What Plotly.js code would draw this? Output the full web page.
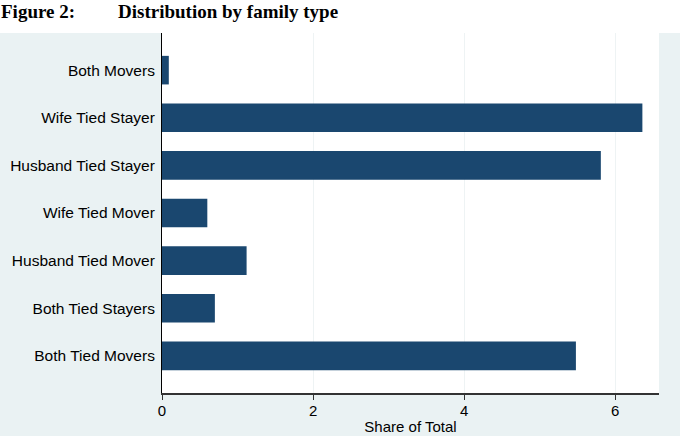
<!DOCTYPE html>
<html>
<head>
<meta charset="utf-8">
<script src="https://cdn.plot.ly/plotly-3.0.1.min.js"></script>
<style>html,body{margin:0;padding:0;background:#fff;}#chart{width:680px;height:436px;}</style>
</head>
<body>
<div id="chart"></div>
<script>
const categories = ["Both Movers", "Wife Tied Stayer", "Husband Tied Stayer", "Wife Tied Mover", "Husband Tied Mover", "Both Tied Stayers", "Both Tied Movers"];
const shareValues = [0.09, 6.36, 5.81, 0.60, 1.12, 0.70, 5.48];
const xTickValues = [0, 2, 4, 6];
const xTickLabels = ["0", "2", "4", "6"];

const trace = {
  type: "bar",
  orientation: "h",
  y: categories,
  x: shareValues,
  width: 0.6,
  marker: {color: "#1a476f", line: {width: 0}},
  hoverinfo: "skip"
};

const layout = {
  width: 680,
  height: 436,
  paper_bgcolor: "#eaf2f3",
  plot_bgcolor: "#ffffff",
  margin: {l: 162, r: 21, t: 33, b: 43, pad: 0},
  showlegend: false,
  font: {family: "Liberation Sans, Arial, sans-serif", color: "#000", size: 15},
  xaxis: {
    range: [0, 6.58],
    tickvals: xTickValues,
    ticktext: xTickLabels,
    ticks: "outside",
    ticklen: 5,
    tickcolor: "#333",
    tickfont: {size: 15},
    ticklabelstandoff: -2,
    showline: true,
    linecolor: "#333",
    linewidth: 1.5,
    showgrid: true,
    gridcolor: "#eef3f4",
    gridwidth: 1,
    zeroline: false,
    title: {text: "Share of Total", font: {size: 15}, standoff: 4}
  },
  yaxis: {
    type: "category",
    categoryorder: "array",
    categoryarray: categories,
    range: [6.78, -0.78],
    showline: true,
    linecolor: "#000",
    linewidth: 1,
    ticks: "",
    ticklabelstandoff: 3,
    tickfont: {size: 15.5},
    showgrid: false,
    zeroline: false
  },
  shapes: [{
    type: "rect", xref: "paper", yref: "paper", layer: "below",
    x0: -0.4, x1: 1.1, y0: 1, y1: 1.2,
    fillcolor: "#ffffff", line: {width: 0}
  }],
  annotations: [
    {text: "<b>Figure 2:</b>", xref: "paper", yref: "paper", x: -0.328, y: 1.06, xanchor: "left", yanchor: "middle", showarrow: false, font: {family: "Liberation Serif, Times New Roman, serif", size: 19, color: "#000"}},
    {text: "<b>Distribution by family type</b>", xref: "paper", yref: "paper", x: -0.093, y: 1.06, xanchor: "left", yanchor: "middle", showarrow: false, font: {family: "Liberation Serif, Times New Roman, serif", size: 19, color: "#000"}}
  ]
};

Plotly.newPlot("chart", [trace], layout, {displayModeBar: false, staticPlot: true});
</script>
</body>
</html>
